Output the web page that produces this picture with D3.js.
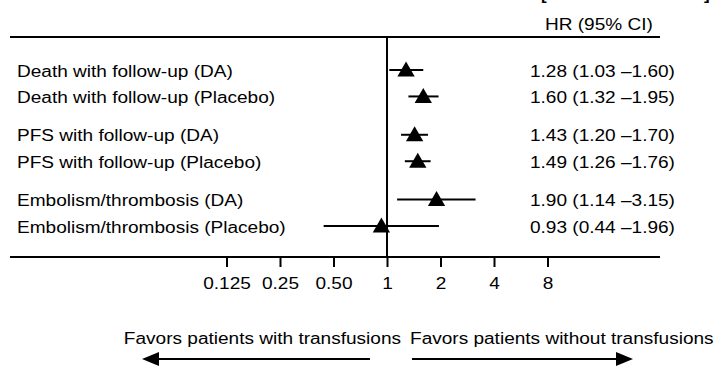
<!DOCTYPE html>
<html lang="en">
<head>
<meta charset="UTF-8">
<title>Forest plot</title>
<script src="https://cdn.jsdelivr.net/npm/d3@7"></script>
<style>
  body { margin: 0; background: #fff; }
  text { font-family: "Liberation Sans", Arial, sans-serif; fill: #000; }
</style>
</head>
<body>
<script>
// rows of the forest plot
const labels = [
  "Death with follow-up (DA)",
  "Death with follow-up (Placebo)",
  "PFS with follow-up (DA)",
  "PFS with follow-up (Placebo)",
  "Embolism/thrombosis (DA)",
  "Embolism/thrombosis (Placebo)"
];
const groups = [0, 0, 1, 1, 2, 2];
const hr = [1.28, 1.60, 1.43, 1.49, 1.90, 0.93];
const lo = [1.03, 1.32, 1.20, 1.26, 1.14, 0.44];
const hi = [1.60, 1.95, 1.70, 1.76, 3.15, 1.96];

const tickVals = [0.125, 0.25, 0.5, 1, 2, 4, 8];
const tickLabels = ["0.125", "0.25", "0.50", "1", "2", "4", "8"];
const favors = ["Favors patients with transfusions", "Favors patients without transfusions"];

const W = 717, H = 367;
const stretch = 1.19; // picture is widened horizontally

const svg = d3.select("body").append("svg")
  .attr("width", W).attr("height", H);

const x = d3.scaleLog().base(2).domain([0.125, 8]).range([226.5, 547.5]);
const y = d3.scaleLinear().domain([0, 5 + 2 * 0.45]).range([70, 226]);
const rowY = i => y(i + groups[i] * 0.45);

const topY = 37, axisY = 257;

// helper for widened text
const stext = (g, tx, ty, str, size, anchor) => g.append("text")
  .attr("transform", `translate(${tx},${ty}) scale(${stretch},1)`)
  .attr("font-size", size)
  .attr("text-anchor", anchor || "start")
  .text(str);

// clipped header brackets at the very top
svg.append("text").attr("x", 541).attr("y", 0).attr("font-size", 17)
  .attr("font-weight", "bold").text("[");
svg.append("text").attr("x", 704).attr("y", 0).attr("font-size", 17)
  .attr("font-weight", "bold").text("]");

stext(svg, 545, 30, "HR (95% CI)", 16);

// frame lines
svg.append("line").attr("x1", 10).attr("x2", 660).attr("y1", topY).attr("y2", topY)
  .attr("stroke", "#000").attr("stroke-width", 2);
svg.append("line").attr("x1", 10).attr("x2", 660).attr("y1", axisY).attr("y2", axisY)
  .attr("stroke", "#000").attr("stroke-width", 2);
svg.append("line").attr("x1", x(1)).attr("x2", x(1)).attr("y1", topY).attr("y2", axisY)
  .attr("stroke", "#000").attr("stroke-width", 2);

// x axis
const axis = svg.append("g")
  .attr("transform", `translate(0,${axisY})`)
  .call(d3.axisBottom(x).tickValues(tickVals).tickSize(10).tickPadding(0)
    .tickFormat((d, i) => tickLabels[i]));
axis.select(".domain").remove();
axis.selectAll(".tick line").attr("stroke-width", 2);
axis.selectAll(".tick text").remove();
axis.selectAll(".tick").each(function(d, i) {
  stext(d3.select(this), 0, 32, tickLabels[i], 16, "middle");
});

// rows
const rows = svg.append("g");
labels.forEach((lab, i) => {
  const ry = rowY(i);
  stext(rows, 17, ry + 6.5, lab, 16);
  rows.append("line")
    .attr("x1", x(lo[i])).attr("x2", x(hi[i]))
    .attr("y1", ry).attr("y2", ry)
    .attr("stroke", "#000").attr("stroke-width", 2);
  rows.append("path")
    .attr("d", d3.symbol().type(d3.symbolTriangle).size(130)())
    .attr("transform", `translate(${x(hr[i])},${ry + 1.5})`)
    .attr("fill", "#000");
  stext(rows, 530, ry + 6.5,
    `${hr[i].toFixed(2)} (${lo[i].toFixed(2)} \u2013${hi[i].toFixed(2)})`, 16);
});

// favors labels and arrows
stext(svg, 401, 344, favors[0], 16, "end");
stext(svg, 410, 344, favors[1], 16);

const arrowY = 359;
const arrows = [[370, 142], [412, 633]];
arrows.forEach(([a, b]) => {
  const dir = Math.sign(b - a);
  svg.append("line").attr("x1", a).attr("x2", b - dir * 10)
    .attr("y1", arrowY).attr("y2", arrowY)
    .attr("stroke", "#000").attr("stroke-width", 2);
  svg.append("path")
    .attr("d", `M${b},${arrowY} L${b - dir * 17},${arrowY - 7} L${b - dir * 17},${arrowY + 7} Z`)
    .attr("fill", "#000");
});
</script>
</body>
</html>
